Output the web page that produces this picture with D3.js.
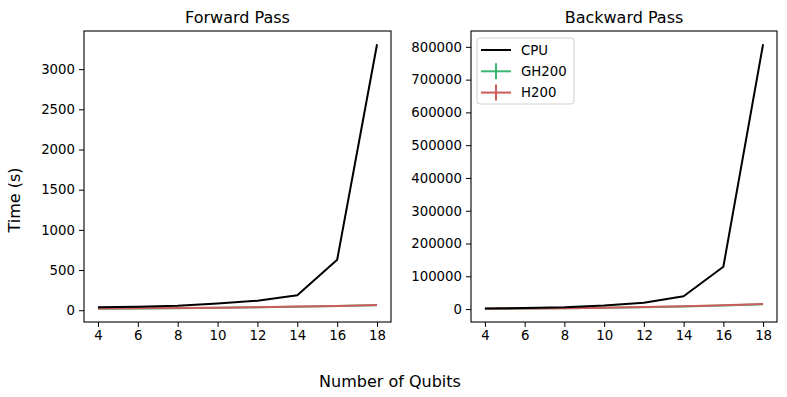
<!DOCTYPE html>
<html>
<head>
<meta charset="utf-8">
<script src="https://cdn.jsdelivr.net/npm/d3@7"></script>
<style>
  body { margin: 0; background: #fff; }
  svg, svg text { font-family: "DejaVu Sans", sans-serif; }
  .tick text { font-size: 13.3px; fill: #000; font-family: "DejaVu Sans", sans-serif; }
  .tick line, .domain { stroke: #000; }
</style>
</head>
<body>
<div id="chart"></div>
<script>
// qubit counts
const qubits = [4, 6, 8, 10, 12, 14, 16, 18];

// forward pass times (s)
const fwdCPU   = [38, 42, 55, 85, 118, 185, 628, 3310];
const fwdGH200 = [18, 21, 25, 30, 36, 43, 52, 63];
const fwdH200  = [20, 23, 27, 32, 38, 45, 54, 66];

// backward pass times (s)
const bwdCPU   = [1800, 3000, 5500, 11000, 19500, 39000, 129000, 808000];
const bwdGH200 = [900, 1500, 2500, 3800, 5500, 7800, 10800, 14500];
const bwdH200  = [1000, 1700, 2800, 4200, 6000, 8400, 11500, 15500];

const xTicks = [4, 6, 8, 10, 12, 14, 16, 18];
const fwdTicks = [0, 500, 1000, 1500, 2000, 2500, 3000];
const bwdTicks = [0, 100000, 200000, 300000, 400000, 500000, 600000, 700000, 800000];

const series = [
    {name: 'CPU', color: '#000000'},
    {name: 'GH200', color: '#3cb371'},
    {name: 'H200', color: '#cd5c5c'}
];

const W = 787, H = 397;
const svg = d3.select('#chart').append('svg')
    .attr('width', W).attr('height', H);

// pad a data extent by 5% like matplotlib does
function padded(vals){
    const [lo, hi] = d3.extent(vals);
    const m = (hi - lo) * 0.05;
    return [lo - m, hi + m];
}

function panel(left, right, title, data, yTicks, showLegend){
    const top = 31, bottom = 322;
    const x = d3.scaleLinear().domain(padded(qubits)).range([left, right]);
    const y = d3.scaleLinear().domain(padded(data.flat())).range([bottom, top]);

    const g = svg.append('g');

    g.append('g')
        .attr('transform', `translate(0,${bottom})`)
        .call(d3.axisBottom(x).tickValues(xTicks).tickSize(5).tickPadding(4).tickSizeOuter(0))
        .call(a => a.select('.domain').remove());
    g.append('g')
        .attr('transform', `translate(${left},0)`)
        .call(d3.axisLeft(y).tickValues(yTicks).tickSize(5).tickPadding(4).tickFormat(d3.format('d')))
        .call(a => a.select('.domain').remove());

    const line = d3.line().x((d, i) => x(qubits[i])).y(d => y(d));
    // draw GPUs first, then CPU on top
    [1, 2, 0].forEach(k => {
        g.append('path')
            .datum(data[k])
            .attr('d', line)
            .attr('fill', 'none')
            .attr('stroke', series[k].color)
            .attr('stroke-width', 2)
            .attr('stroke-linejoin', 'round');
    });

    g.append('rect')
        .attr('x', left).attr('y', top)
        .attr('width', right - left).attr('height', bottom - top)
        .attr('fill', 'none').attr('stroke', '#000').attr('stroke-width', 1.1);

    g.append('text')
        .attr('x', (left + right) / 2).attr('y', 23)
        .attr('text-anchor', 'middle')
        .attr('font-size', 16)
        .text(title);

    if (showLegend){
        const lg = g.append('g').attr('transform', `translate(${left + 6},${top + 7})`);
        lg.append('rect')
            .attr('width', 97).attr('height', 66).attr('rx', 3)
            .attr('fill', '#fff').attr('fill-opacity', 0.8)
            .attr('stroke', '#d0d0d0');
        series.forEach((s, i) => {
            const yy = 12 + i * 21.3;
            lg.append('line')
                .attr('x1', 4).attr('x2', 34).attr('y1', yy).attr('y2', yy)
                .attr('stroke', s.color).attr('stroke-width', 2);
            if (i > 0){
                lg.append('line')
                    .attr('x1', 19).attr('x2', 19).attr('y1', yy - 8).attr('y2', yy + 8)
                    .attr('stroke', s.color).attr('stroke-width', 2);
            }
            lg.append('text')
                .attr('x', 44).attr('y', yy + 4.5)
                .attr('font-size', 13.3)
                .text(s.name);
        });
    }
}

panel(84, 391, 'Forward Pass', [fwdCPU, fwdGH200, fwdH200], fwdTicks, false);
panel(471, 777, 'Backward Pass', [bwdCPU, bwdGH200, bwdH200], bwdTicks, true);

// shared axis labels
svg.append('text')
    .attr('x', 390).attr('y', 387)
    .attr('text-anchor', 'middle')
    .attr('font-size', 16)
    .text('Number of Qubits');
svg.append('text')
    .attr('transform', 'translate(20,200) rotate(-90)')
    .attr('text-anchor', 'middle')
    .attr('font-size', 16)
    .text('Time (s)');
</script>
</body>
</html>
